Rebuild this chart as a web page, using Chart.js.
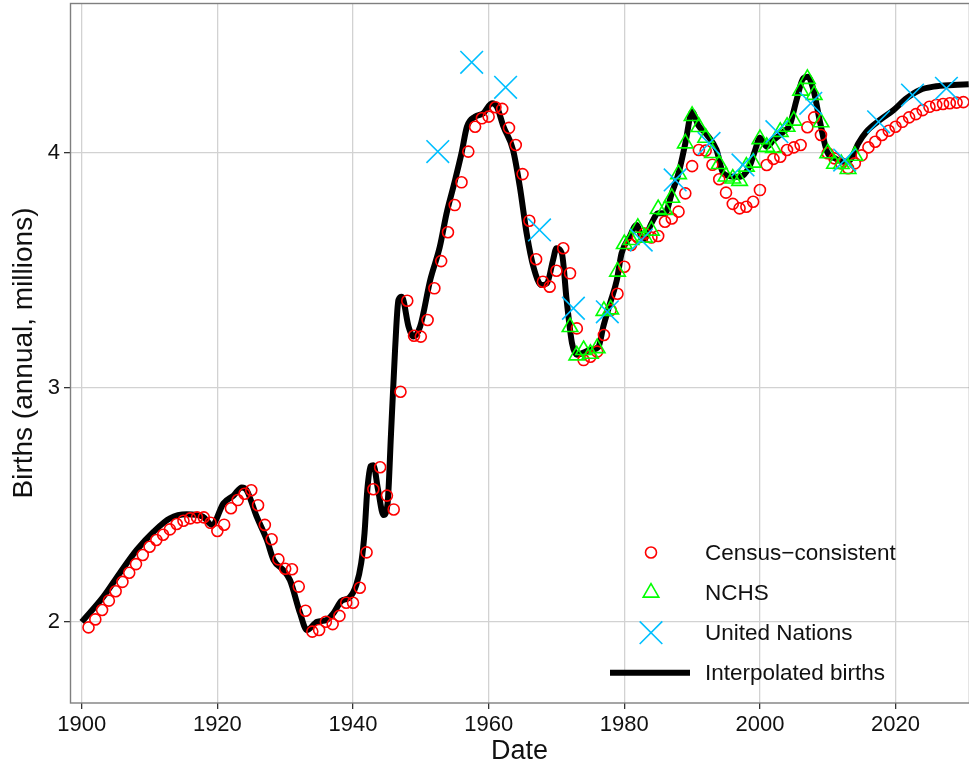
<!DOCTYPE html>
<html>
<head>
<meta charset="utf-8">
<title>Births</title>
<script src="https://cdn.jsdelivr.net/npm/chart.js@4.4.1/dist/chart.umd.min.js"></script>
<style>
  html, body { margin: 0; padding: 0; background: #fff; }
  #wrap { width: 969px; height: 770px; }
</style>
</head>
<body>
<div id="wrap"><canvas id="birthsChart" width="969" height="770"></canvas></div>
<script>
// Census-consistent series, one value per year starting 1901
const censusStart = 1901;
const censusValues = [
    1.977, 2.011, 2.051, 2.091, 2.131, 2.171, 2.210, 2.247, 2.286, 2.321,
    2.350, 2.372, 2.395, 2.418, 2.432, 2.442, 2.446, 2.446, 2.423, 2.388,
    2.415, 2.485, 2.520, 2.547, 2.562, 2.498, 2.414, 2.353, 2.267, 2.227,
    2.225, 2.151, 2.048, 1.959, 1.966, 2.001, 1.991, 2.026, 2.082, 2.082,
    2.146, 2.297, 2.566, 2.660, 2.539, 2.480, 2.982, 3.370, 3.221, 3.217,
    3.288, 3.423, 3.539, 3.662, 3.778, 3.875, 4.006, 4.112, 4.148, 4.155,
    4.195, 4.188, 4.107, 4.034, 3.910, 3.711, 3.547, 3.451, 3.430, 3.498,
    3.594, 3.487, 3.252, 3.117, 3.131, 3.153, 3.224, 3.330, 3.400, 3.515,
    3.608, 3.640, 3.657, 3.640, 3.646, 3.707, 3.721, 3.750, 3.828, 3.944,
    4.013, 4.010, 3.950, 3.888, 3.831, 3.783, 3.764, 3.771, 3.792, 3.842,
    3.949, 3.975, 3.984, 4.013, 4.024, 4.034, 4.110, 4.152, 4.077, 3.999,
    3.977, 3.956, 3.935, 3.956, 3.990, 4.024, 4.048, 4.077, 4.095, 4.112,
    4.133, 4.152, 4.166, 4.183, 4.197, 4.205, 4.209, 4.212, 4.215, 4.217
];

// NCHS series, one value per year starting 1972
const nchsStart = 1972;
const nchsValues = [
    3.258, 3.137, 3.160, 3.144, 3.168, 3.327, 3.333, 3.494, 3.612, 3.629,
    3.681, 3.639, 3.669, 3.761, 3.757, 3.809, 3.910, 4.041, 4.158, 4.111,
    4.065, 4.000, 3.953, 3.900, 3.891, 3.881, 3.942, 3.959, 4.059, 4.026,
    4.022, 4.090, 4.112, 4.138, 4.266, 4.316, 4.248, 4.131, 3.999, 3.954,
    3.953, 3.932, 3.988
];

// United Nations five-year estimates (period midpoints)
const unYears = [1952.5, 1957.5, 1962.5, 1967.5, 1972.5, 1977.5, 1982.5, 1987.5,
                 1992.5, 1997.5, 2002.5, 2007.5, 2012.5, 2017.5, 2022.5, 2027.5];
const unValues = [4.006, 4.387, 4.280, 3.672, 3.338, 3.323, 3.629, 3.885,
                  4.041, 3.949, 4.091, 4.212, 3.970, 4.133, 4.247, 4.276];

// Interpolated births curve
const lineYears = [
    1900, 1903.2, 1905.6, 1908.1, 1910.6, 1913, 1915.5, 1917.9, 1919.2, 1920.9,
    1922.4, 1923.6, 1924.3, 1925.8, 1927.3, 1928.3, 1929.7, 1930.7, 1932.2, 1933.2,
    1934.7, 1936.1, 1937.1, 1938.3, 1939.5, 1940.5, 1941.2, 1941.7, 1942.1, 1942.6,
    1943, 1943.7, 1944.5, 1945.1, 1945.6, 1946.2, 1946.7, 1947.2, 1948.2, 1948.9,
    1949.9, 1951.4, 1952.8, 1953.8, 1954.8, 1956, 1956.8, 1958, 1959.2, 1960.5,
    1961.2, 1962.2, 1963.6, 1964.6, 1965.6, 1966.6, 1967.8, 1968.6, 1969.5, 1970,
    1970.8, 1971.5, 1972.3, 1973, 1975, 1976.2, 1976.9, 1977.9, 1978.9, 1979.6,
    1980.8, 1981.8, 1982.8, 1984, 1985, 1986, 1987, 1988, 1989, 1990,
    1990.9, 1992.2, 1993.6, 1994.6, 1996.1, 1997.1, 1998.5, 1999.3, 2000, 2001,
    2002, 2003.5, 2004.4, 2005.4, 2006.4, 2007.1, 2007.9, 2008.9, 2009.9, 2011.1,
    2012.3, 2013.3, 2014.5, 2015.7, 2017.7, 2019.7, 2021.6, 2023.6, 2025.6, 2028.5,
    2030.8
];
const lineValues = [
    2.000, 2.108, 2.208, 2.307, 2.385, 2.442, 2.459, 2.449, 2.414, 2.506,
    2.540, 2.574, 2.563, 2.449, 2.350, 2.264, 2.222, 2.179, 2.037, 1.966,
    2.001, 2.009, 2.037, 2.090, 2.105, 2.160, 2.250, 2.380, 2.560, 2.665,
    2.669, 2.563, 2.456, 2.506, 2.800, 3.160, 3.373, 3.387, 3.259, 3.217,
    3.260, 3.460, 3.600, 3.743, 3.856, 3.999, 4.112, 4.155, 4.169, 4.212,
    4.198, 4.112, 4.013, 3.856, 3.658, 3.515, 3.437, 3.444, 3.544, 3.594,
    3.572, 3.373, 3.188, 3.140, 3.160, 3.174, 3.259, 3.359, 3.458, 3.572,
    3.643, 3.693, 3.629, 3.700, 3.743, 3.743, 3.828, 3.913, 4.041, 4.176,
    4.119, 4.077, 4.013, 3.913, 3.899, 3.899, 3.945, 4.013, 4.065, 4.027,
    4.055, 4.091, 4.119, 4.226, 4.319, 4.325, 4.269, 4.127, 4.006, 3.977,
    3.963, 3.970, 4.041, 4.091, 4.141, 4.183, 4.233, 4.269, 4.283, 4.290,
    4.293
];

const xTicks = [1900, 1920, 1940, 1960, 1980, 2000, 2020];
const yTicks = [2, 3, 4];

const FONT = '"Liberation Sans", Arial, Helvetica, sans-serif';

function seriesFromStart(start, values) {
    return values.map((v, i) => ({ x: start + i, y: v }));
}
function seriesFromPairs(xs, ys) {
    return xs.map((x, i) => ({ x: x, y: ys[i] }));
}

// Drop the tick-label overhang padding so the panel starts at the top like the original
function noPadding(axis) {
    axis.paddingTop = 0;
    axis.paddingBottom = 0;
    axis.paddingLeft = 0;
    axis.paddingRight = 0;
}

// Grey frame round the plotting panel
const panelBorder = {
    id: 'panelBorder',
    afterDatasetsDraw(chart) {
        const a = chart.chartArea;
        const ctx = chart.ctx;
        ctx.save();
        ctx.strokeStyle = '#7f7f7f';
        ctx.lineWidth = 1.4;
        ctx.strokeRect(a.left + 0.5, a.top + 0.5, a.right - a.left, a.bottom - a.top - 0.5);
        ctx.restore();
    }
};

// Legend drawn inside the panel, bottom right
const legendOrder = [2, 1, 0, 3];
const insideLegend = {
    id: 'insideLegend',
    afterDraw(chart) {
        const ctx = chart.ctx;
        const keyX = 651, textX = 705, firstY = 552.5, rowGap = 40.1;
        ctx.save();
        legendOrder.forEach((dsIndex, row) => {
            const ds = chart.data.datasets[dsIndex];
            const y = firstY + row * rowGap;
            ctx.strokeStyle = ds.borderColor;
            ctx.fillStyle = 'rgba(0,0,0,0)';
            if (ds.showLine) {
                ctx.lineWidth = ds.borderWidth;
                ctx.beginPath();
                ctx.moveTo(610, y);
                ctx.lineTo(690, y);
                ctx.stroke();
            } else {
                ctx.lineWidth = ds.pointBorderWidth;
                Chart.helpers.drawPoint(ctx, {
                    pointStyle: ds.pointStyle,
                    radius: ds.pointRadius,
                    rotation: 0,
                    borderWidth: ds.pointBorderWidth
                }, keyX, y);
            }
            ctx.fillStyle = '#111';
            ctx.font = '22.5px ' + FONT;
            ctx.textBaseline = 'middle';
            ctx.textAlign = 'left';
            ctx.fillText(ds.label, textX, y + 1);
        });
        ctx.restore();
    }
};

const ctx = document.getElementById('birthsChart').getContext('2d');

const birthsChart = new Chart(ctx, {
    type: 'line',
    data: {
        datasets: [
            {
                label: 'United Nations',
                data: seriesFromPairs(unYears, unValues),
                showLine: false,
                pointStyle: 'crossRot',
                pointRadius: 16,
                pointBorderWidth: 1.6,
                borderColor: '#00BFFF',
                backgroundColor: 'rgba(0,0,0,0)',
                order: 0
            },
            {
                label: 'NCHS',
                data: seriesFromStart(nchsStart, nchsValues),
                showLine: false,
                pointStyle: 'triangle',
                pointRadius: 9,
                pointBorderWidth: 1.6,
                borderColor: '#00FF00',
                backgroundColor: 'rgba(0,0,0,0)',
                order: 1
            },
            {
                label: 'Census\u2212consistent',
                data: seriesFromStart(censusStart, censusValues),
                showLine: false,
                pointStyle: 'circle',
                pointRadius: 5.5,
                pointBorderWidth: 1.6,
                borderColor: '#FF0000',
                backgroundColor: 'rgba(0,0,0,0)',
                order: 2
            },
            {
                label: 'Interpolated births',
                data: seriesFromPairs(lineYears, lineValues),
                showLine: true,
                borderColor: '#000000',
                borderWidth: 6,
                pointRadius: 0,
                cubicInterpolationMode: 'monotone',
                borderJoinStyle: 'round',
                fill: false,
                order: 3
            }
        ]
    },
    options: {
        responsive: false,
        animation: false,
        devicePixelRatio: 1,
        layout: { autoPadding: false, padding: { top: 3, right: 0, bottom: 0, left: 0 } },
        plugins: {
            legend: { display: false },
            tooltip: { enabled: false }
        },
        scales: {
            x: {
                type: 'linear',
                min: 1898.27,
                max: 2030.83,
                afterBuildTicks: axis => { axis.ticks = xTicks.map(v => ({ value: v })); },
                afterFit: axis => { axis.height = 67; noPadding(axis); },
                border: { display: false },
                grid: { color: '#d2d2d2', lineWidth: 1.3, tickLength: 6, tickColor: '#333333', tickWidth: 1.3 },
                ticks: {
                    color: '#111',
                    font: { family: FONT, size: 22 },
                    padding: 3,
                    maxRotation: 0,
                    autoSkip: false,
                    callback: v => String(v)
                },
                title: {
                    display: true,
                    text: 'Date',
                    color: '#111',
                    font: { family: FONT, size: 27 },
                    padding: { top: 0, bottom: 2 }
                }
            },
            y: {
                type: 'linear',
                min: 1.6546,
                max: 4.6397,
                afterBuildTicks: axis => { axis.ticks = yTicks.map(v => ({ value: v })); },
                afterFit: axis => { axis.width = 70; noPadding(axis); },
                border: { display: false },
                grid: { color: '#d2d2d2', lineWidth: 1.3, tickLength: 6, tickColor: '#333333', tickWidth: 1.3 },
                ticks: {
                    color: '#111',
                    font: { family: FONT, size: 22 },
                    padding: 4,
                    autoSkip: false,
                    callback: v => String(v)
                },
                title: {
                    display: true,
                    text: 'Births (annual, millions)',
                    color: '#111',
                    font: { family: FONT, size: 28 },
                    padding: { top: 7, bottom: 0 }
                }
            }
        }
    },
    plugins: [panelBorder, insideLegend]
});
</script>
</body>
</html>
